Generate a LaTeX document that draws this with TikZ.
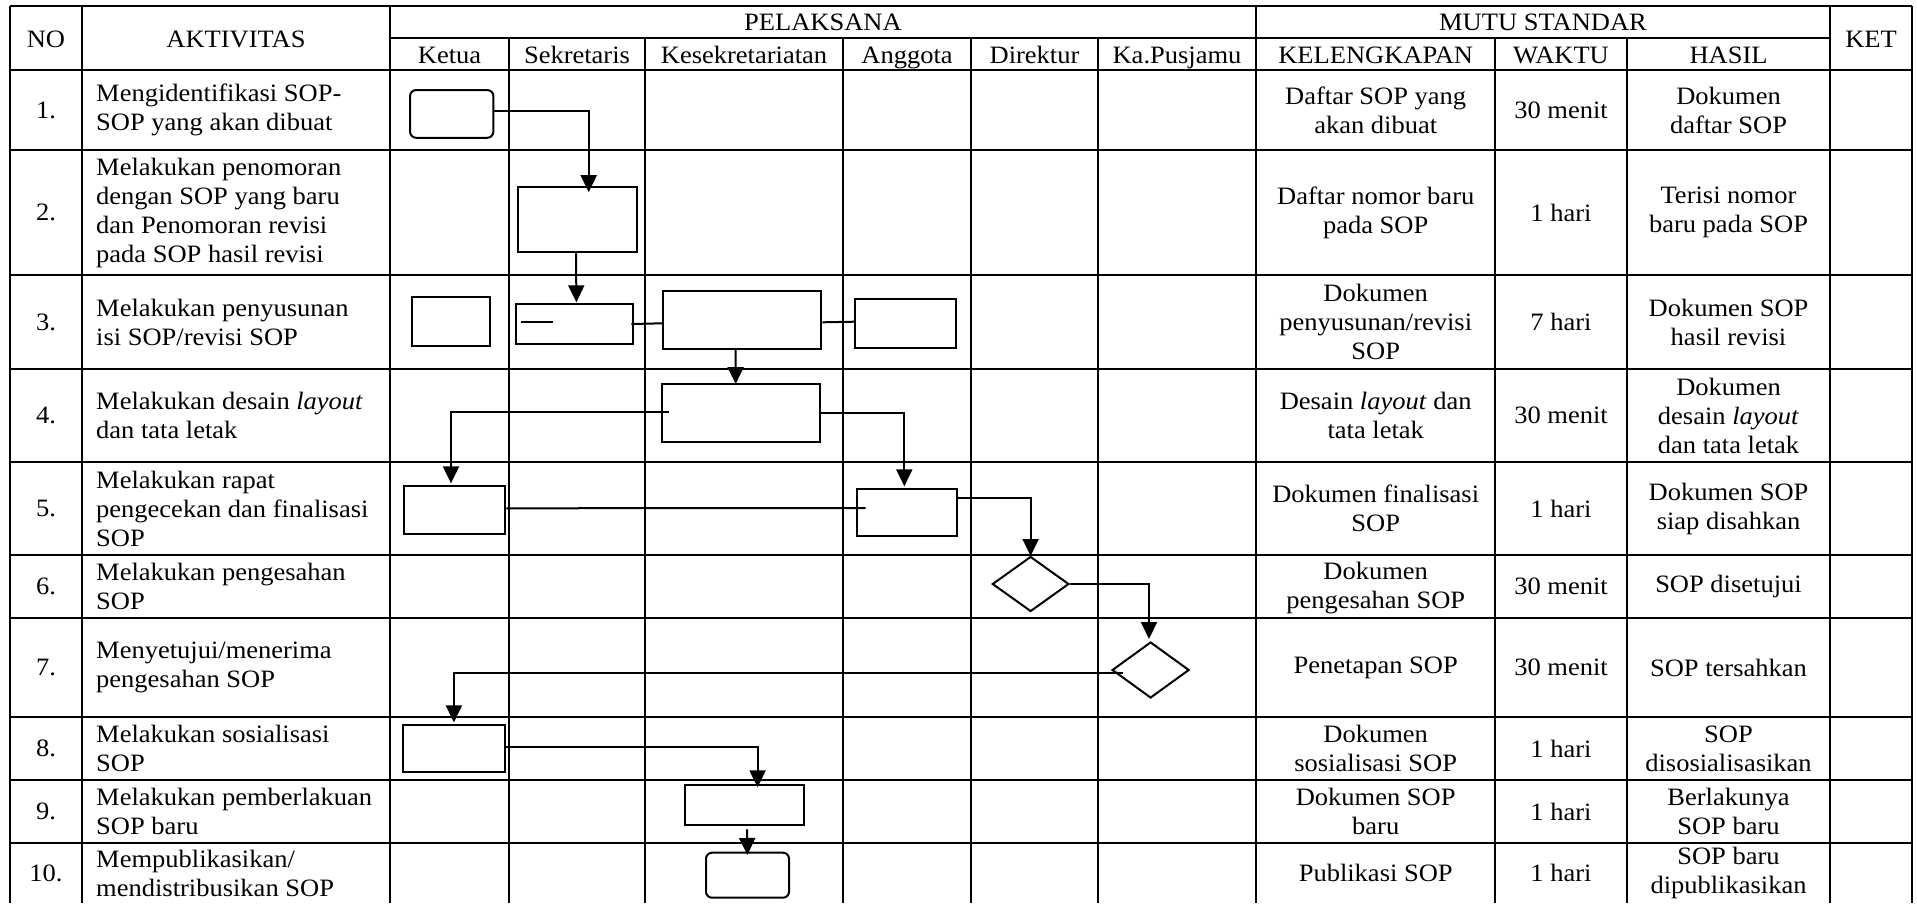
\documentclass[tikz,border=0pt]{standalone}
\usepackage{fontspec}
\setmainfont{Liberation Serif}[FakeStretch=1.06]
\usetikzlibrary{arrows.meta,shapes.geometric,calc}
\begin{document}
\begin{tikzpicture}[x=1pt,y=-1pt,
  tbl/.style={line width=1.5pt},
  shp/.style={draw, line width=2pt, inner sep=0pt},
  rbox/.style={shp, rectangle},
  rrbox/.style={shp, rectangle, rounded corners=6pt},
  dmd/.style={shp, diamond},
  conn/.style={line width=2pt},
  arr/.style={conn, -{Triangle[length=17pt,width=16pt]}},
  txt/.style={inner sep=0pt, align=center, font=\fontsize{25}{29}\selectfont},
  act/.style={txt, align=left, anchor=west},
  hd/.style={txt, anchor=base}]
\useasboundingbox (0,0) rectangle (1917,903);
% ---------- table grid ----------
\draw[tbl] (10,6) -- (1912,6);
\draw[tbl] (390,38) -- (1830,38);
\draw[tbl] (10,70) -- (1912,70);
\foreach \yy in {150,275,369,462,555,618,717,780,843}
  \draw[tbl] (10,\yy) -- (1912,\yy);
\foreach \xx in {10,82,390,1256,1830,1912}
  \draw[tbl] (\xx,6) -- (\xx,903);
\foreach \xx in {509,645,843,971,1098,1495,1627}
  \draw[tbl] (\xx,38) -- (\xx,903);
% ---------- header ----------
\node[hd] (hno) at (46,47) {NO};
\node[hd] (hakt) at (236,47) {AKTIVITAS};
\node[hd] (hpel) at (823,30.5) {PELAKSANA};
\node[hd] (hmutu) at (1543,30.5) {MUTU STANDAR};
\node[hd] (hket) at (1871,47) {KET};
\node[hd] (hketua) at (449.5,63) {Ketua};
\node[hd] (hsek) at (577,63) {Sekretaris};
\node[hd] (hkesek) at (744,63) {Kesekretariatan};
\node[hd] (hangg) at (907,63) {Anggota};
\node[hd] (hdir) at (1034.5,63) {Direktur};
\node[hd] (hka) at (1177,63) {Ka.Pusjamu};
\node[hd] (hkel) at (1375.7,63) {KELENGKAPAN};
\node[hd] (hwak) at (1561,63) {WAKTU};
\node[hd] (hhas) at (1728.5,63) {HASIL};
% ---------- rows ----------
\node[txt] (n1) at (46,110) {1.};
\node[act] (a1) at (96,110) {Mengidentifikasi SOP-\\SOP yang akan dibuat};
\node[txt] (k1) at (1375.7,110) {Daftar SOP yang\\akan dibuat};
\node[txt] (w1) at (1561,110) {30 menit};
\node[txt] (h1) at (1728.5,110) {Dokumen\\daftar SOP};

\node[txt] (n2) at (46,212.5) {2.};
\node[act] (a2) at (96,212.5) {Melakukan penomoran\\dengan SOP yang baru\\dan Penomoran revisi\\pada SOP hasil revisi};
\node[txt] (k2) at (1375.7,212.5) {Daftar nomor baru\\pada SOP};
\node[txt] (w2) at (1561,212.5) {1 hari};
\node[txt] (h2) at (1728.5,212.5) {Terisi nomor\\baru pada SOP};

\node[txt] (n3) at (46,322) {3.};
\node[act] (a3) at (96,322) {Melakukan penyusunan\\isi SOP/revisi SOP};
\node[txt] (k3) at (1375.7,322) {Dokumen\\penyusunan/revisi\\SOP};
\node[txt] (w3) at (1561,322) {7 hari};
\node[txt] (h3) at (1728.5,322) {Dokumen SOP\\hasil revisi};

\node[txt] (n4) at (46,415.5) {4.};
\node[act] (a4) at (96,415.5) {Melakukan desain \textit{layout}\\dan tata letak};
\node[txt] (k4) at (1375.7,415.5) {Desain \textit{layout} dan\\tata letak};
\node[txt] (w4) at (1561,415.5) {30 menit};
\node[txt] (h4) at (1728.5,415.5) {Dokumen\\desain \textit{layout}\\dan tata letak};

\node[txt] (n5) at (46,508.5) {5.};
\node[act] (a5) at (96,508.5) {Melakukan rapat\\pengecekan dan finalisasi\\SOP};
\node[txt] (k5) at (1375.7,508.5) {Dokumen finalisasi\\SOP};
\node[txt] (w5) at (1561,508.5) {1 hari};
\node[txt] (h5) at (1728.5,508.5) {Dokumen SOP\\siap disahkan};

\node[txt] (n6) at (46,586.5) {6.};
\node[act] (a6) at (96,586.5) {Melakukan pengesahan\\SOP};
\node[txt] (k6) at (1375.7,588) {Dokumen\\pengesahan SOP};
\node[txt] (w6) at (1561,586.5) {30 menit};
\node[txt] (h6) at (1728.5,586.5) {SOP disetujui};

\node[txt] (n7) at (46,667.5) {7.};
\node[act] (a7) at (96,667.5) {Menyetujui/menerima\\pengesahan SOP};
\node[txt] (k7) at (1375.7,667.5) {Penetapan SOP};
\node[txt] (w7) at (1561,667.5) {30 menit};
\node[txt] (h7) at (1728.5,667.5) {SOP tersahkan};

\node[txt] (n8) at (46,748.5) {8.};
\node[act] (a8) at (96,748.5) {Melakukan sosialisasi\\SOP};
\node[txt] (k8) at (1375.7,748.5) {Dokumen\\sosialisasi SOP};
\node[txt] (w8) at (1561,748.5) {1 hari};
\node[txt] (h8) at (1728.5,748.5) {SOP\\disosialisasikan};

\node[txt] (n9) at (46,811.5) {9.};
\node[act] (a9) at (96,811.5) {Melakukan pemberlakuan\\SOP baru};
\node[txt] (k9) at (1375.7,811.5) {Dokumen SOP\\baru};
\node[txt] (w9) at (1561,811.5) {1 hari};
\node[txt] (h9) at (1728.5,811.5) {Berlakunya\\SOP baru};

\node[txt] (n10) at (46,873) {10.};
\node[act] (a10) at (96,873) {Mempublikasikan/\\mendistribusikan SOP};
\node[txt] (k10) at (1375.7,873) {Publikasi SOP};
\node[txt] (w10) at (1561,873) {1 hari};
\node[txt] (h10) at (1728.5,873) {SOP baru\\dipublikasikan};
% ---------- flow shapes ----------
\node[rrbox, minimum width=83.3pt, minimum height=47.7pt] (s1) at (451.7,113.9) {};
\node[rbox, minimum width=118.4pt, minimum height=65pt] (s2) at (577.5,219.2) {};
\node[rbox, minimum width=77.3pt, minimum height=49.3pt] (s3a) at (450.9,321.4) {};
\node[rbox, minimum width=117.9pt, minimum height=39.7pt] (s3b) at (574.5,324.2) {};
\node[rbox, minimum width=158.1pt, minimum height=58.3pt] (s3c) at (742.3,319.9) {};
\node[rbox, minimum width=100.2pt, minimum height=48.7pt] (s3d) at (905.5,323.7) {};
\node[rbox, minimum width=157.7pt, minimum height=58.3pt] (s4) at (741.2,413.2) {};
\node[rbox, minimum width=101.3pt, minimum height=48.3pt] (s5a) at (454.7,510.2) {};
\node[rbox, minimum width=100pt, minimum height=47pt] (s5b) at (907.3,512.5) {};
\node[dmd, minimum width=76.6pt, minimum height=55pt] (d6) at (1030.6,584) {};
\node[dmd, minimum width=77pt, minimum height=56pt] (d7) at (1150.6,670) {};
\node[rbox, minimum width=101.7pt, minimum height=47.3pt] (s8) at (454.2,748.7) {};
\node[rbox, minimum width=119pt, minimum height=40.3pt] (s9) at (744.5,805.2) {};
\node[rrbox, minimum width=83pt, minimum height=45pt] (s10) at (747.5,875.2) {};
% ---------- connectors ----------
\draw[arr] ([yshift=3.2pt]s1.east) -| ([xshift=11.2pt,yshift=-6.5pt]s2.north);
\draw[arr] ([xshift=-1.5pt]s2.south) -- ([xshift=1.9pt,yshift=1pt]s3b.north);
\draw[conn] ([xshift=6.5pt,yshift=2.5pt]s3b.west) -- ++(31.8pt,0pt) coordinate (dashend);
\draw[conn] ([xshift=-3pt,yshift=0.2pt]s3b.east) -- ([yshift=-3.4pt]s3c.west);
\draw[conn] ([yshift=-2.4pt]s3c.east) -- ([yshift=2pt]s3d.west);
\draw[arr] ([xshift=-6.7pt]s3c.south) -- ([xshift=-5.5pt,yshift=-1pt]s4.north);
\draw[arr] ([xshift=7.7pt,yshift=1.2pt]s4.west) -| ([xshift=-3.7pt,yshift=1.7pt]s5a.north);
\draw[arr] ([yshift=0.5pt]s4.east) -| ([xshift=-3pt,yshift=1.7pt]s5b.north);
\draw[conn] ([yshift=1.9pt]s5a.east) -- ([xshift=9.4pt,yshift=4.5pt]s5b.west);
\draw[arr] ([yshift=14.2pt]s5b.east) -| ([yshift=-0.5pt]d6.north);
\draw[arr] (d6.east) -| ([xshift=-1.6pt,yshift=2pt]d7.north);
\draw[arr] ([xshift=11.7pt,yshift=-3.3pt]d7.west) -| ([xshift=-0.3pt,yshift=1.7pt]s8.north);
\draw[arr] ([yshift=2pt]s8.east) -| ([xshift=13.1pt,yshift=-3.3pt]s9.north);
\draw[arr] ([xshift=2.5pt,yshift=-3pt]s9.south) -- ([yshift=-3.3pt]s10.north);
\end{tikzpicture}
\end{document}
